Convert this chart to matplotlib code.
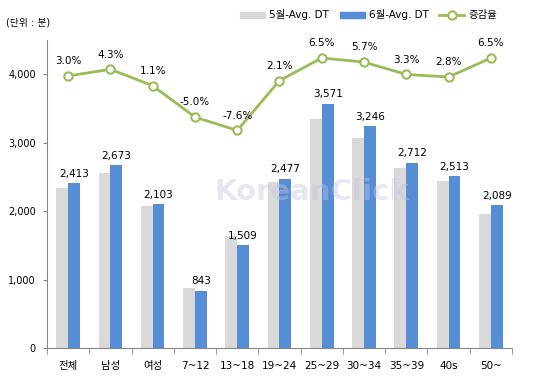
import matplotlib.pyplot as plt
import numpy as np

categories = ["전체", "남성", "여성", "7~12", "13~18", "19~24", "25~29", "30~34", "35~39", "40s", "50~"]
may_dt = [2343, 2563, 2080, 887, 1633, 2426, 3353, 3071, 2625, 2445, 1962]
june_dt = [2413, 2673, 2103, 843, 1509, 2477, 3571, 3246, 2712, 2513, 2089]
change_rate = [3.0, 4.3, 1.1, -5.0, -7.6, 2.1, 6.5, 5.7, 3.3, 2.8, 6.5]

plt.rcParams["font.family"] = ["DejaVu Sans", "Noto Sans CJK KR"]

gray = "#d9d9d9"
blue = "#558ed5"
green = "#9bbb59"
axis_col = "#868686"

fig = plt.figure(figsize=(5.52, 3.88), dpi=100)
ax = fig.add_axes([0.0851, 0.1023, 0.8424, 0.7946])

x = np.arange(len(categories))
w = 0.28

ax.bar(x - w / 2, may_dt, width=w, color=gray, zorder=2)
ax.bar(x + w / 2, june_dt, width=w, color=blue, zorder=2)

for xi, v in zip(x, june_dt):
    ax.annotate(f"{v:,}", (xi + w / 2, v), xytext=(0, 3), textcoords="offset points",
                ha="center", va="bottom", fontsize=7.5)

ax.set_xlim(-0.5, len(categories) - 0.5)
ax.set_ylim(0, 4500)
ax.set_yticks([0, 1000, 2000, 3000, 4000])
ax.set_yticklabels([f"{t:,}" for t in [0, 1000, 2000, 3000, 4000]], fontsize=7)
ax.tick_params(axis="y", length=3, color=axis_col, pad=5)

ax.set_xticks(x)
ax.set_xticklabels(categories, fontsize=7.5)
ax.set_xticks(np.arange(-0.5, len(categories)), minor=True)
ax.tick_params(axis="x", which="major", length=0, pad=9)
ax.tick_params(axis="x", which="minor", length=4, color=axis_col)

for s in ["top", "right"]:
    ax.spines[s].set_visible(False)
for s in ["left", "bottom"]:
    ax.spines[s].set_color(axis_col)

# faint watermark drawn over the bars
ax.text(5.76, 2280, "KoreanClick", fontsize=21, fontweight="bold", color="#c4c4e4",
        alpha=0.4, ha="center", va="center", zorder=3)

ax2 = ax.twinx()
ax2.set_ylim(-50, 10)
ax2.axis("off")
ax2.plot(x, change_rate, color=green, linewidth=2, marker="o", markersize=6,
         markerfacecolor="white", markeredgecolor=green, markeredgewidth=1.5)
for xi, p in zip(x, change_rate):
    ax2.annotate(f"{p:.1f}%", (xi, p), xytext=(0, 7), textcoords="offset points",
                 ha="center", va="bottom", fontsize=7.5)

fig.text(0.01, 0.943, "(단위 : 분)", fontsize=7, va="center")

handles = [
    plt.Rectangle((0, 0), 1, 1, color=gray),
    plt.Rectangle((0, 0), 1, 1, color=blue),
    plt.Line2D([], [], color=green, linewidth=2, marker="o", markersize=6,
               markerfacecolor="white", markeredgecolor=green, markeredgewidth=1.5),
]
fig.legend(handles, ["5월-Avg. DT", "6월-Avg. DT", "증감율"], ncol=3, frameon=False,
           loc="center", bbox_to_anchor=(0.668, 0.962), fontsize=7.5,
           handlelength=2.4, handleheight=0.5, columnspacing=1.0, handletextpad=0.4)

plt.savefig("out.png", dpi=100)
plt.close()
